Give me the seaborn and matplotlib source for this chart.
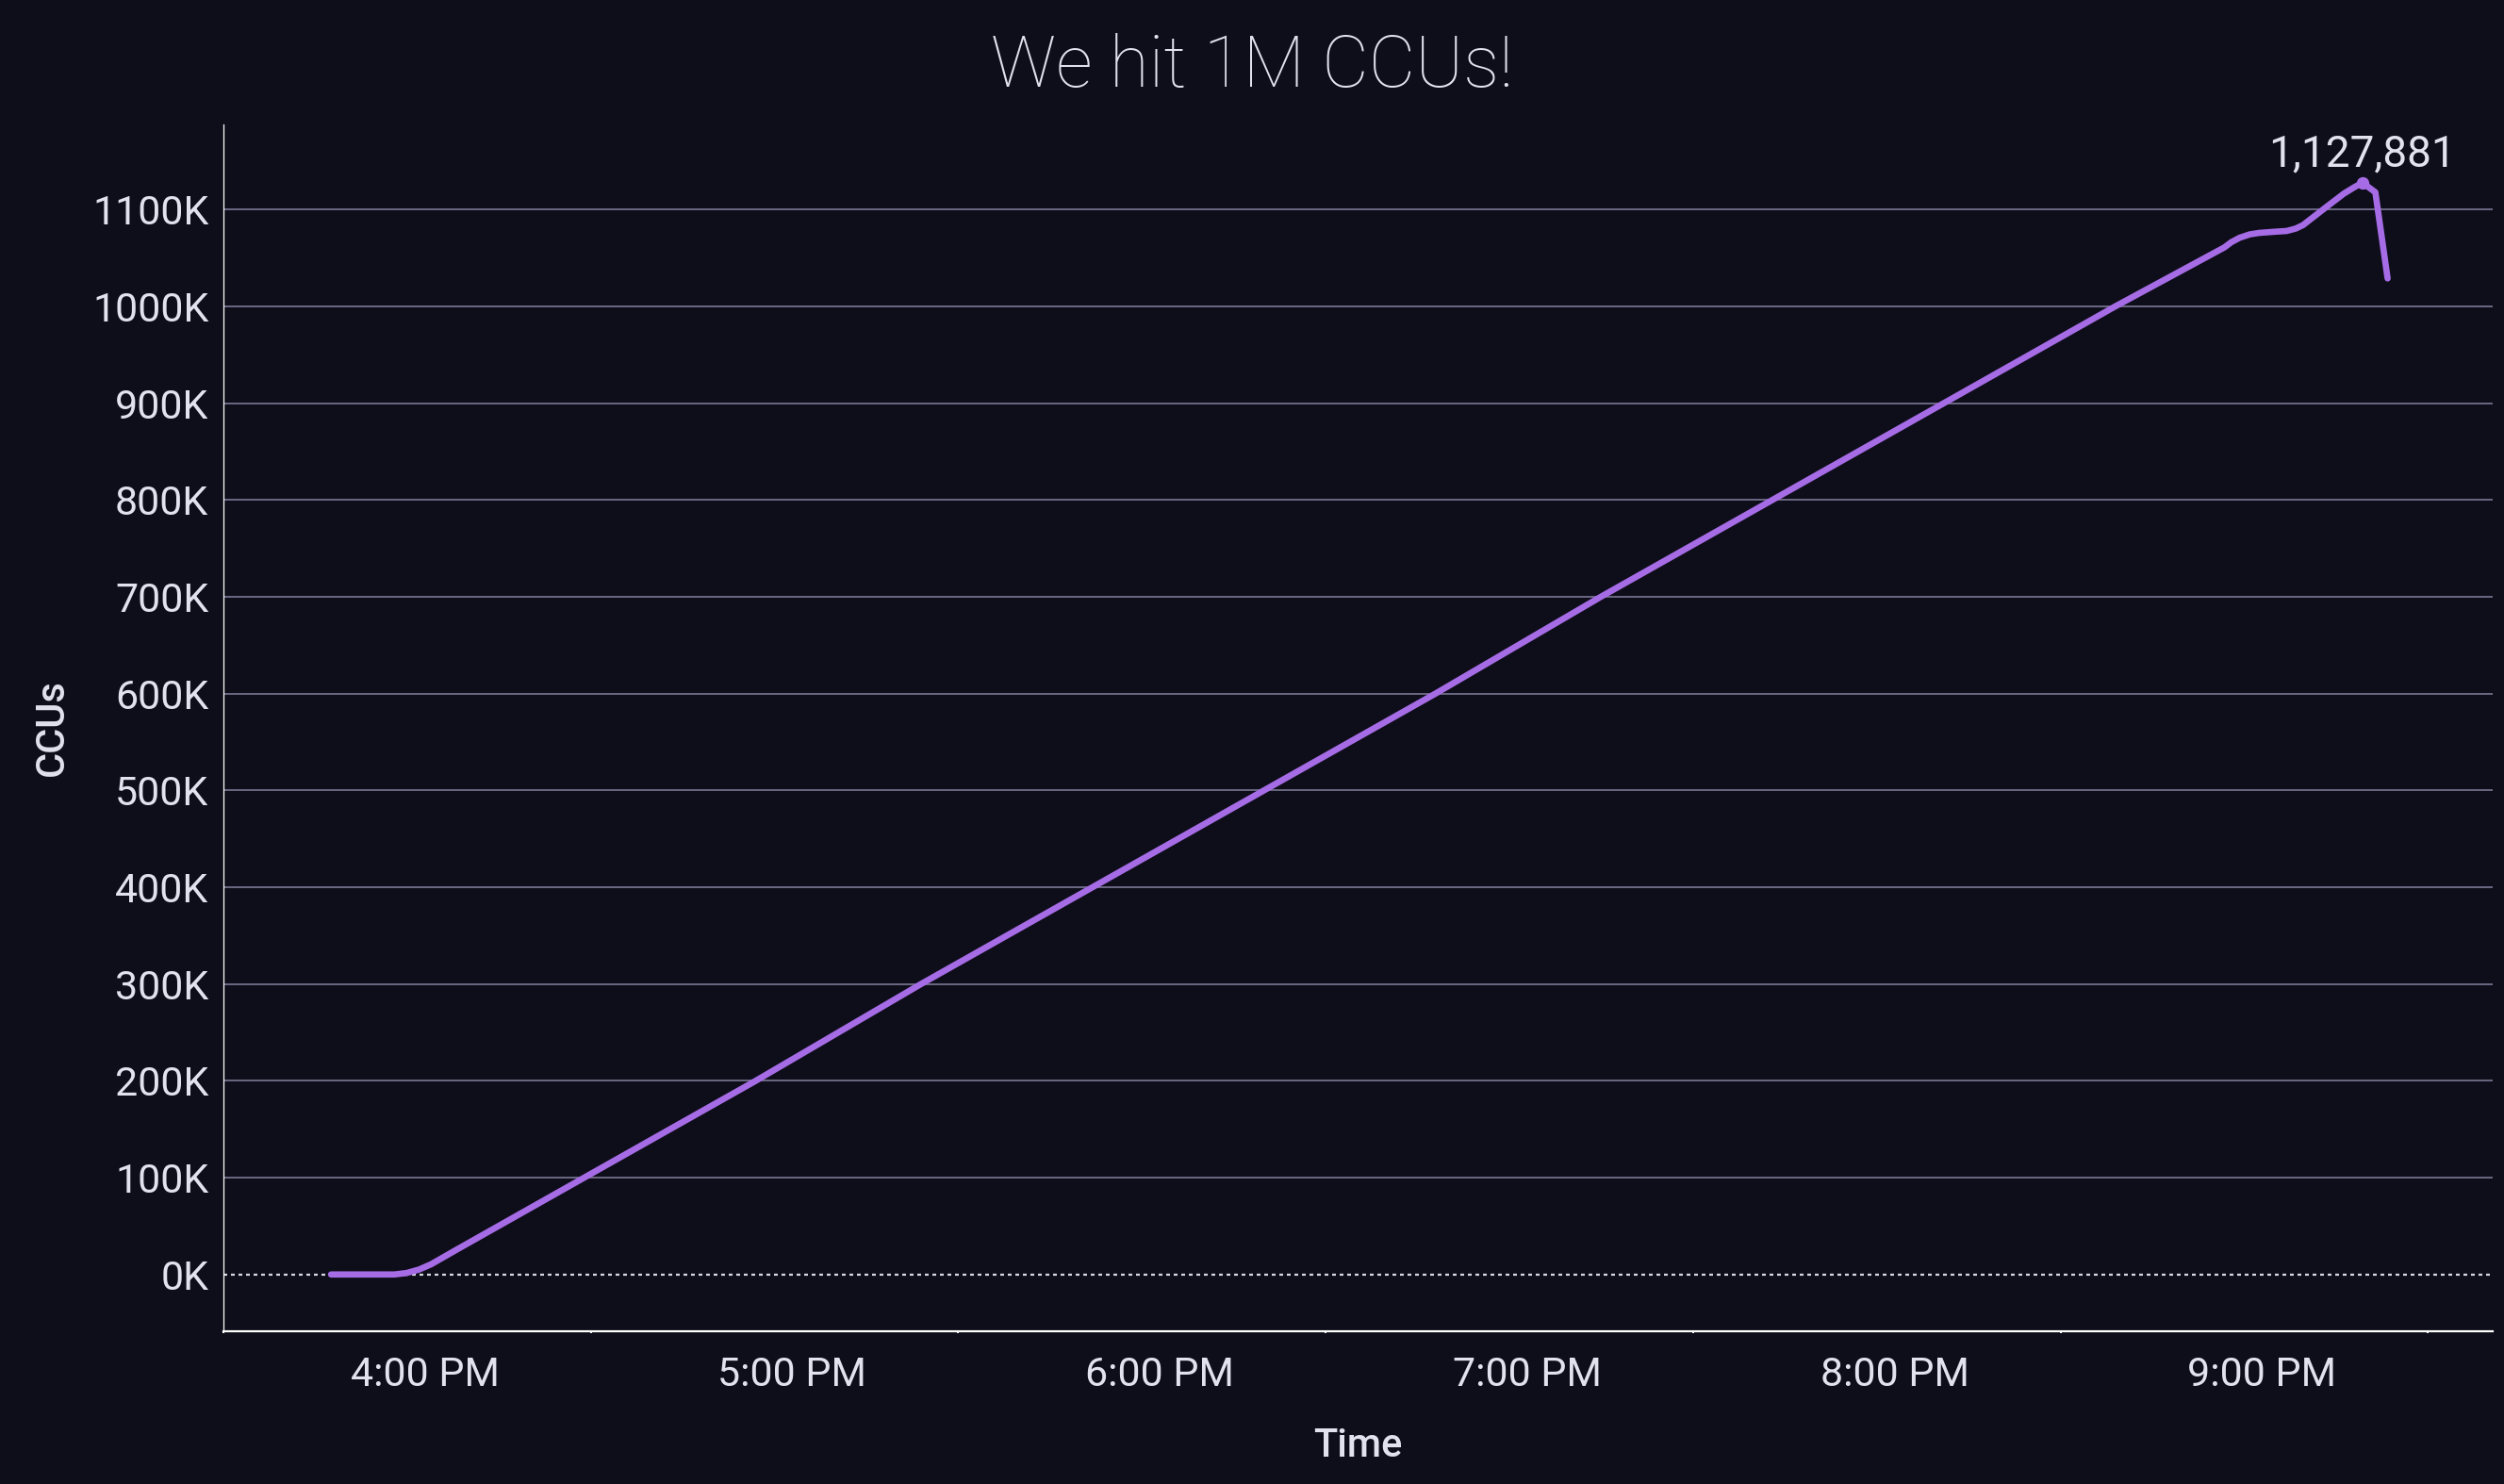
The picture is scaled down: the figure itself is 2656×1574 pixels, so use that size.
import pandas as pd
import matplotlib.pyplot as plt
import matplotlib.dates as mdates
import matplotlib.ticker as mticker
import seaborn as sns

# CCU readings
times = ["15:44:40", "15:50:00", "15:55:00", "15:57:00", "15:59:00", "16:01:00",
         "16:05:00", "16:26:00", "16:54:00", "17:21:00", "17:49:00", "18:17:00",
         "18:45:00", "19:12:00", "19:40:00", "20:08:00", "20:36:00", "20:53:50",
         "20:55:00", "20:56:20", "20:58:00", "20:59:30", "21:02:00", "21:04:00",
         "21:05:30", "21:06:40", "21:08:30", "21:10:20", "21:13:20", "21:15:00",
         "21:16:24", "21:18:30", "21:20:30"]
ccus = [0, 0, 0, 1500, 5000, 10500,
        25000, 100000, 200000, 300000, 400000, 500000,
        600000, 700000, 800000, 900000, 1000000, 1061000,
        1066500, 1071000, 1074500, 1076000, 1077200, 1078000,
        1080500, 1084000, 1093000, 1102000, 1116500, 1123000,
        1127881, 1118000, 1029000]

y_ticks = [0, 100000, 200000, 300000, 400000, 500000, 600000,
           700000, 800000, 900000, 1000000, 1100000]

day = "2024-01-01 "
bg = "#0e0e1a"
fg = "#e2e2ee"
line_color = "#a66ce6"
grid_color = "#6b6883"

sns.set_style("white", {"axes.facecolor": bg, "figure.facecolor": bg})
plt.rcParams["font.family"] = ["Roboto", "DejaVu Sans"]

df = pd.DataFrame({"Time": pd.to_datetime([day + t for t in times]), "CCUs": ccus})

fig = plt.figure(figsize=(13.28, 7.87), dpi=200)
ax = fig.add_axes([0.0892, 0.1031, 0.9063, 0.8130])
ax.set_facecolor(bg)

ax.axhline(0, color="#d8d8e0", lw=0.8, ls=(0, (1.8, 1.8)), zorder=2)
sns.lineplot(data=df, x="Time", y="CCUs", color=line_color, lw=2.4, ax=ax, zorder=3)

peak = df.loc[df["CCUs"].idxmax()]
ax.plot([peak["Time"]], [peak["CCUs"]], "o", color=line_color, ms=3.8, zorder=4)
ax.annotate("{:,}".format(int(peak["CCUs"])), xy=(peak["Time"], peak["CCUs"]),
            xytext=(0, 3), textcoords="offset points", ha="center", va="bottom",
            fontsize=16.5, color=fg)

xmin = pd.Timestamp(day + "15:27:05")
xmax = pd.Timestamp(day + "21:37:40")
ax.set_xlim(xmin, xmax)
ax.set_ylim(-58400, 1188000)

ax.xaxis.set_major_locator(mdates.HourLocator())
ax.xaxis.set_major_formatter(mdates.DateFormatter("%-I:%M %p"))
ax.xaxis.set_minor_locator(mticker.FixedLocator(
    mdates.date2num(pd.date_range(xmin, periods=7, freq="h"))))
ax.set_yticks(y_ticks)
ax.yaxis.set_major_formatter(mticker.FuncFormatter(lambda v, p: "{:.0f}K".format(v / 1000)))

ax.tick_params(axis="both", which="major", colors="white", labelcolor=fg, labelsize=15.5)
ax.tick_params(axis="y", length=3.6, width=0.7, pad=2)
ax.tick_params(axis="x", length=3.6, width=0.7, pad=6)
ax.tick_params(axis="x", which="minor", length=0.8, width=0.7, color="white", bottom=True)

ax.grid(axis="y", color=grid_color, lw=0.7)
ax.grid(axis="x", visible=False)
ax.set_axisbelow(True)
fig.canvas.draw()
for tick_val, gl in zip(ax.get_yticks(), ax.get_ygridlines()):
    if tick_val == 0:
        gl.set_visible(False)

for side in ["top", "right"]:
    ax.spines[side].set_visible(False)
ax.spines["left"].set_color("white")
ax.spines["left"].set_linewidth(0.45)
ax.spines["bottom"].set_color("white")
ax.spines["bottom"].set_linewidth(0.8)

ax.set_xlabel("Time", fontsize=15, color=fg, fontweight="medium", va="center")
ax.xaxis.set_label_coords(0.5, -0.095)
ax.set_ylabel("CCUs", fontsize=15, color=fg, fontweight="medium", va="center", ha="center")
ax.yaxis.set_label_coords(-0.0756, 0.5)

fig.text(0.5, 0.955, "We hit 1M CCUs!", ha="center", va="center",
         fontsize=27.5, color=fg, fontweight="light")

plt.savefig("out.png", dpi=200, facecolor=bg)
